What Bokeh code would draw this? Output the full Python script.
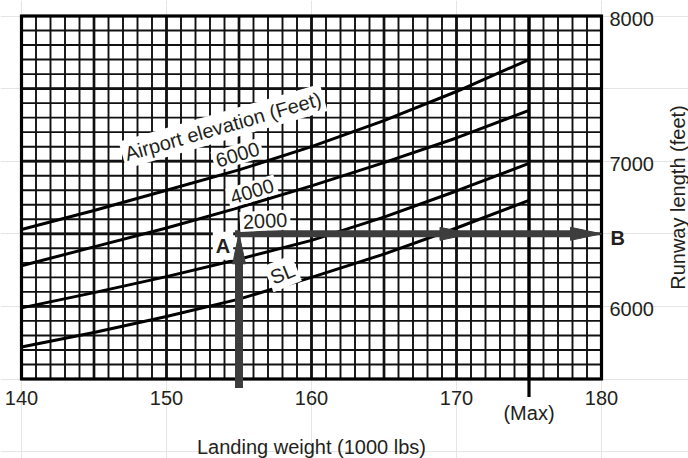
from bokeh.plotting import figure
from bokeh.models import Label, Range1d
from bokeh.embed import file_html
from bokeh.resources import INLINE

# ---- data ----
weights = [140, 145, 150, 155, 160, 165, 170, 175]          # landing weight (1000 lbs)
runway_sl = [5720, 5820, 5930, 6050, 6200, 6360, 6540, 6730]
runway_2000 = [5990, 6095, 6205, 6325, 6455, 6615, 6795, 6985]
runway_4000 = [6280, 6410, 6540, 6680, 6830, 6990, 7160, 7350]
runway_6000 = [6530, 6660, 6800, 6940, 7100, 7280, 7480, 7700]

x_ticks = [140, 150, 160, 170, 180]
y_ticks = [6000, 7000, 8000]
max_weight = 175
example_weight = 155      # point A
example_runway = 6500     # point B
mid_arrow_weight = 171

X0, X1 = 140, 180
Y0, Y1 = 5500, 8000
x_grid_minor = list(range(X0, X1 + 1, 1))
x_grid_major = list(range(X0, X1 + 1, 5))
y_grid_minor = list(range(Y0, Y1 + 1, 100))
y_grid_major = list(range(Y0, Y1 + 1, 500))

# ---- layout (pixels) ----
W, H = 688, 458
LEFT, RIGHT = 21, 601
TOP, BOTTOM = 15.5, 378.5
PX_X = (RIGHT - LEFT) / (X1 - X0)
PX_Y = (BOTTOM - TOP) / (Y1 - Y0)

FONT = "Liberation Sans"
FS = "20px"
TXT = "#231f20"
ARROW = "#3d3d3d"
GRID = "#111111"

p = figure(width=W, height=H,
           x_range=Range1d(X0 - LEFT / PX_X, X0 + (W - LEFT) / PX_X),
           y_range=Range1d(Y0 - (H - BOTTOM) / PX_Y, Y1 + TOP / PX_Y),
           x_axis_location=None, y_axis_location=None,
           output_backend="svg", toolbar_location=None, min_border=0)
p.outline_line_color = None
p.background_fill_color = "white"
p.border_fill_color = "white"

# grid
p.segment(x0=x_grid_minor, y0=[Y0] * len(x_grid_minor), x1=x_grid_minor,
          y1=[Y1] * len(x_grid_minor), line_color=GRID, line_width=1.9)
p.segment(x0=[X0] * len(y_grid_minor), y0=y_grid_minor, x1=[X1] * len(y_grid_minor),
          y1=y_grid_minor, line_color=GRID, line_width=1.9)
p.segment(x0=x_grid_major, y0=[Y0] * len(x_grid_major), x1=x_grid_major,
          y1=[Y1] * len(x_grid_major), line_color=GRID, line_width=2.7)
p.segment(x0=[X0] * len(y_grid_major), y0=y_grid_major, x1=[X1] * len(y_grid_major),
          y1=y_grid_major, line_color=GRID, line_width=2.7)
# frame
p.quad(left=[X0], right=[X1], bottom=[Y0], top=[Y1], fill_color=None,
       line_color="black", line_width=3.2, line_join="miter")

# max weight line, with its tick below the axis
p.segment(x0=[max_weight], y0=[Y1], x1=[max_weight], y1=[Y0 - 18 / PX_Y],
          line_color="black", line_width=3.2)

# curves
for ys in (runway_sl, runway_2000, runway_4000, runway_6000):
    p.line(weights, ys, line_color="black", line_width=3)

# curve labels (white backed)
def lab(text, x, y, angle=0, bold=False, bg=True, size=FS, **kw):
    l = Label(x=x, y=y, text=text, angle=angle, angle_units="deg",
              text_font=FONT, text_font_size=size, text_color=TXT,
              text_font_style="bold" if bold else "normal",
              text_align=kw.pop("text_align", "center"),
              text_baseline=kw.pop("text_baseline", "middle"), **kw)
    if bg:
        l.background_fill_color = "white"
        l.padding = 3
    p.add_layout(l)

lab("Airport elevation (Feet)", 153.9, 7240, angle=16)
lab("6000", 154.9, 7046, angle=17)
lab("4000", 155.9, 6792, angle=17)
lab("2000", 156.8, 6590, angle=3)
lab("SL", 158.0, 6226, angle=22)

# example arrows
p.segment(x0=[example_weight], y0=[Y0 - 9 / PX_Y], x1=[example_weight],
          y1=[example_runway - 26 / PX_Y], line_color=ARROW, line_width=8, line_cap="butt")
p.segment(x0=[example_weight - 4 / PX_X], y0=[example_runway], x1=[X1 - 28 / PX_X],
          y1=[example_runway], line_color=ARROW, line_width=7, line_cap="butt")
hx, hy = [], []
hw = 6.5 / PX_X
hb = example_runway - 30 / PX_Y
hx.append([example_weight - hw, example_weight, example_weight + hw])
hy.append([hb, example_runway, hb])
for tip in (mid_arrow_weight, X1):
    base = tip - 31 / PX_X
    hh = 6.5 / PX_Y
    hx.append([base, tip, base])
    hy.append([example_runway - hh, example_runway, example_runway + hh])
p.patches(hx, hy, fill_color=ARROW, line_color=ARROW, line_width=1)

lab("A", example_weight, example_runway, bold=True, x_offset=-16, y_offset=-12)
lab("B", X1, example_runway, bold=True, bg=False, text_align="left",
    x_offset=9, y_offset=-4)

# tick labels
for t in x_ticks:
    lab(str(t), t, Y0, bg=False, y_offset=-18.5)
for t in y_ticks:
    lab(str(t), X1, t, bg=False, text_align="left", x_offset=8, y_offset=-3)
lab("(Max)", max_weight, Y0, bg=False, y_offset=-33.5)

# axis titles
lab("Landing weight (1000 lbs)", (X0 + X1) / 2, Y0, bg=False, y_offset=-68)
lab("Runway length (feet)", X1, (Y0 + Y1) / 2, angle=90, bg=False, x_offset=76)

open("out.html", "w").write(file_html(p, INLINE))
